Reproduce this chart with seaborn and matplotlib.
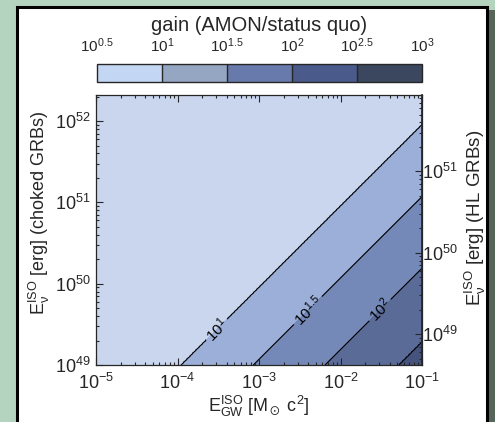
import numpy as np
import matplotlib
matplotlib.use("Agg")
import matplotlib.pyplot as plt
import matplotlib.patches as mpatches
from matplotlib.colors import ListedColormap, BoundaryNorm
import matplotlib.cm as cm
import seaborn as sns

# Data
gain_levels = [1.0, 1.5, 2.0, 2.5]               # log10(gain) of the drawn contours
egw_at_floor = [-3.96, -3.07, -2.19, -1.28]      # log10 E_GW where each contour meets E_nu = 1e49
cbar_bounds = [0.5, 1.0, 1.5, 2.0, 2.5, 3.0]
cbar_labels = ['$10^{0.5}$', '$10^{1}$', '$10^{1.5}$', '$10^{2}$', '$10^{2.5}$', '$10^{3}$']
fill_colors = ['#c9d6ee', '#9bafd8', '#7589b8', '#5b6b98', '#46537c']
cbar_colors = ['#c3d6f3', '#95a6c3', '#6879ab', '#4a5a8b', '#3a475e']
label_fmt = {1.0: '$10^{1}$', 1.5: '$10^{1.5}$', 2.0: '$10^{2}$'}
label_pos = [(-3.54, 49.46), (-2.46, 49.73), (-1.55, 49.71)]   # log10 coords
x_lim = (-5.0, -1.0)
y_lim = (49.0, 52.32)
hl_shift = 2.4   # HL GRB axis = choked axis / hl_shift

sns.set_theme(style="ticks")
plt.rcParams['font.family'] = ['Liberation Sans', 'DejaVu Sans']
plt.rcParams['mathtext.fontset'] = 'custom'
plt.rcParams['mathtext.rm'] = 'Liberation Sans'
plt.rcParams['mathtext.it'] = 'Liberation Sans:italic'
plt.rcParams['mathtext.default'] = 'regular'

fig = plt.figure(figsize=(4.95, 4.22), dpi=100, facecolor='#b4d4c0')

# white panel + shadow
fig.add_artist(mpatches.Rectangle((489 / 495, -0.05), 6 / 495, (422 - 10) / 422 + 0.05,
                                  transform=fig.transFigure, facecolor='#56655a', edgecolor='none', zorder=0))
fig.add_artist(mpatches.Rectangle((17 / 495, -0.05), (487 - 17) / 495, (422 - 7) / 422 + 0.05,
                                  transform=fig.transFigure, facecolor='white', edgecolor='black',
                                  lw=2.2, zorder=0))

rect = [96 / 495, (422 - 365) / 422, 326 / 495, 270 / 422]

# contours drawn in log10 space on a hidden linear axes
axd = fig.add_axes(rect)
axd.set_zorder(1)
lx = np.linspace(*x_lim, 500)
ly = np.linspace(*y_lim, 500)
LX, LY = np.meshgrid(lx, ly)
G = np.interp(LX - (LY - 49), egw_at_floor, gain_levels, left=0.9, right=2.9)
axd.contourf(LX, LY, G, levels=cbar_bounds, colors=fill_colors)
cs = axd.contour(LX, LY, G, levels=gain_levels, colors='black', linewidths=0.8)
axd.clabel(cs, levels=[1.0, 1.5, 2.0], fmt=label_fmt, manual=label_pos, inline=True,
           inline_spacing=3, fontsize=11)
axd.set_xlim(*x_lim)
axd.set_ylim(*y_lim)
axd.axis('off')

# log axes on top for the ticks
ax = fig.add_axes(rect)
ax.set_zorder(2)
ax.patch.set_alpha(0)
ax.set_xscale('log')
ax.set_yscale('log')
ax.set_xlim(10.0 ** x_lim[0], 10.0 ** x_lim[1])
ax.set_ylim(10.0 ** y_lim[0], 10.0 ** y_lim[1])
ax.set_xlabel(r'E$^{ISO}_{GW}$ [M$_\odot$ c$^2$]', fontsize=13, labelpad=0)
ax.set_ylabel(r'E$^{ISO}_{\nu}$ [erg] (choked GRBs)', fontsize=13)
ax.yaxis.set_label_coords(-0.135, 0.563)
ax.tick_params(which='both', direction='in', top=True, right=False, labelsize=13, width=0.8)
ax.tick_params(axis='x', pad=6)
ax.tick_params(axis='y', pad=4)
ax.tick_params(which='major', length=5)
ax.tick_params(which='minor', length=2.5)
for s in ax.spines.values():
    s.set_linewidth(0.9)

sec = ax.secondary_yaxis('right', functions=(lambda y: y / hl_shift, lambda y: y * hl_shift))
sec.tick_params(which='both', direction='in', labelsize=13, width=0.8, pad=0)
sec.tick_params(which='major', length=5)
sec.tick_params(which='minor', length=2.5)
sec.set_ylabel(r'E$^{ISO}_{\nu}$ [erg] (HL GRBs)', fontsize=13.5)
sec.yaxis.set_label_coords(1.126, 0.544, transform=ax.transAxes)

# colorbar
cax = fig.add_axes([97 / 495, (422 - 82) / 422, 325 / 495, 18 / 422])
cax.set_zorder(2)
sm = cm.ScalarMappable(norm=BoundaryNorm(cbar_bounds, 5), cmap=ListedColormap(cbar_colors))
cb = fig.colorbar(sm, cax=cax, orientation='horizontal', drawedges=True)
cb.outline.set_linewidth(1.0)
cb.dividers.set_linewidth(1.0)
cb.set_ticks(cbar_bounds)
cb.set_ticklabels(cbar_labels)
cax.xaxis.set_ticks_position('top')
cax.xaxis.set_label_position('top')
cax.tick_params(length=0, labelsize=11, pad=6.5)
cax.minorticks_off()
cb.set_label('gain (AMON/status quo)', fontsize=14.5, labelpad=4)

fig.savefig('out.png', dpi=100, facecolor=fig.get_facecolor())
